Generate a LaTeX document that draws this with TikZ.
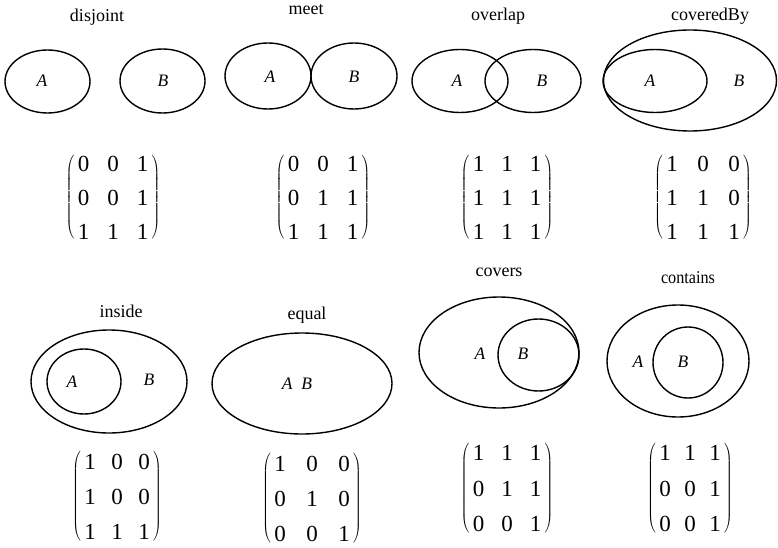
\documentclass[tikz,border=0pt]{standalone}
\usepackage{fontspec}
\setmainfont{Liberation Serif}
\usetikzlibrary{matrix}

\begin{document}
\begin{tikzpicture}[x=1pt, y=-1pt,
  region/.style={line width=1.4pt},
  ttl/.style={font=\fontsize{18}{20}\selectfont, anchor=center},
  narrowttl/.style={ttl, xscale=0.9, transform shape},
  lbl/.style={font=\fontsize{17.5}{19}\selectfont\itshape, anchor=center},
  relmat/.style={matrix of nodes, column sep=18pt, row sep=18pt, inner sep=2pt,
    nodes={font=\fontsize{23}{25}\selectfont, inner sep=0pt, text height=16pt, text depth=0pt, anchor=center},
    left delimiter=(, right delimiter=)},
  tightmat/.style={relmat, column sep=13.5pt}
]
\useasboundingbox (0,0) rectangle (778,548);
% disjoint
\node[ttl] (tdisjoint) at (97,17) {disjoint};
\draw[region] (47.5,81.5) ellipse (42.5 and 31.5);
\draw[region] (162.5,81) ellipse (42.5 and 32);
\node[lbl] (adisjoint) at (42,81) {A};
\node[lbl] (bdisjoint) at (163,81) {B};
\matrix (mdisjoint) [relmat] at (113,197) {0 & 0 & 1\\ 0 & 0 & 1\\ 1 & 1 & 1\\};
% meet
\node[ttl] (tmeet) at (306,10) {meet};
\draw[region] (268,76) ellipse (43 and 33);
\draw[region] (354,76) ellipse (43 and 33);
\node[lbl] (ameet) at (270,77) {A};
\node[lbl] (bmeet) at (354,77) {B};
\matrix (mmeet) [relmat] at (323,197) {0 & 0 & 1\\ 0 & 1 & 1\\ 1 & 1 & 1\\};
% overlap
\node[ttl] (toverlap) at (498,16) {overlap};
\draw[region] (460,81) ellipse (48 and 31.5);
\draw[region] (533,81) ellipse (48 and 31.5);
\node[lbl] (aoverlap) at (457,81) {A};
\node[lbl] (boverlap) at (542,81) {B};
\matrix (moverlap) [relmat, column sep=17pt] at (507,197) {1 & 1 & 1\\ 1 & 1 & 1\\ 1 & 1 & 1\\};
% coveredBy
\node[ttl] (tcoveredby) at (710,16) {coveredBy};
\draw[region] (690,80.5) ellipse (86.5 and 50.5);
\draw[region] (655,81) ellipse (52 and 31.5);
\node[lbl] (acoveredby) at (650,81) {A};
\node[lbl] (bcoveredby) at (739,81) {B};
\matrix (mcoveredby) [relmat, column sep=19.5pt] at (703,197) {1 & 0 & 0\\ 1 & 1 & 0\\ 1 & 1 & 1\\};
% inside
\node[ttl] (tinside) at (121,311) {inside};
\draw[region] (109,381.5) ellipse (78 and 51.5);
\draw[region] (84,381.5) ellipse (37 and 32.5);
\node[lbl] (ainside) at (72,382) {A};
\node[lbl] (binside) at (149,380) {B};
\matrix (minside) [relmat, column sep=15.5pt, row sep=19pt] at (117,496) {1 & 0 & 0\\ 1 & 0 & 0\\ 1 & 1 & 1\\};
% equal
\node[ttl] (tequal) at (307,315) {equal};
\draw[region] (302,383.5) ellipse (90 and 50.5);
\node[lbl] (abequal) at (297,384) {A~~B};
\matrix (mequal) [relmat, column sep=20.5pt, row sep=19pt] at (312,498) {1 & 0 & 0\\ 0 & 1 & 0\\ 0 & 0 & 1\\};
% covers
\node[ttl] (tcovers) at (499,272) {covers};
\draw[region] (499,352.5) ellipse (80 and 55.5);
\draw[region] (538.5,355) ellipse (40.5 and 36);
\node[lbl] (acovers) at (480,354) {A};
\node[lbl] (bcovers) at (523,354) {B};
\matrix (mcovers) [relmat, column sep=17pt, row sep=19.5pt] at (507,488) {1 & 1 & 1\\ 0 & 1 & 1\\ 0 & 0 & 1\\};
% contains
\node[narrowttl] (tcontains) at (688,278) {contains};
\draw[region] (678,361) ellipse (71 and 56);
\draw[region] (688,362.5) ellipse (35 and 35.5);
\node[lbl] (acontains) at (638,362) {A};
\node[lbl] (bcontains) at (683,362) {B};
\matrix (mcontains) [tightmat, row sep=19.5pt] at (690,488) {1 & 1 & 1\\ 0 & 0 & 1\\ 0 & 0 & 1\\};
\end{tikzpicture}
\end{document}
